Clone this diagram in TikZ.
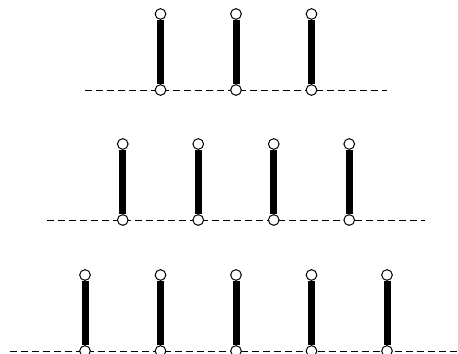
\documentclass[tikz,border=0pt]{standalone}
\usetikzlibrary{backgrounds}
\begin{document}
\begin{tikzpicture}[x=0.75pt,y=-0.75pt,
  pin/.style={circle,draw,fill=white,inner sep=0pt,minimum size=8pt,line width=0.75pt},
  bar/.style={line width=5.25pt,line cap=butt},
  base/.style={line width=0.75pt,dash pattern=on 5.25pt off 3pt}]
\useasboundingbox (0,0) rectangle (458,354);
\foreach \r/\n/\yb in {1/3/90, 2/4/220, 3/5/351} {
  \pgfmathsetmacro{\yt}{\yb-76}
  \pgfmathsetmacro{\xl}{236-(\n+1)/2*75.5}
  \pgfmathsetmacro{\xr}{236+(\n+1)/2*75.5}
  \coordinate (L\r) at (\xl,\yb);
  \coordinate (R\r) at (\xr,\yb);
  \foreach \i in {1,...,\n} {
    \pgfmathsetmacro{\x}{236+(\i-(\n+1)/2)*75.5}
    \node[pin] (t\r\i) at (\x,\yt) {};
    \node[pin] (b\r\i) at (\x,\yb) {};
    \begin{pgfonlayer}{background}
      \draw[bar] (t\r\i.south) -- (b\r\i.north);
    \end{pgfonlayer}
  }
  \begin{pgfonlayer}{background}
    \draw[base] (L\r) -- (R\r);
  \end{pgfonlayer}
}
\end{tikzpicture}
\end{document}
